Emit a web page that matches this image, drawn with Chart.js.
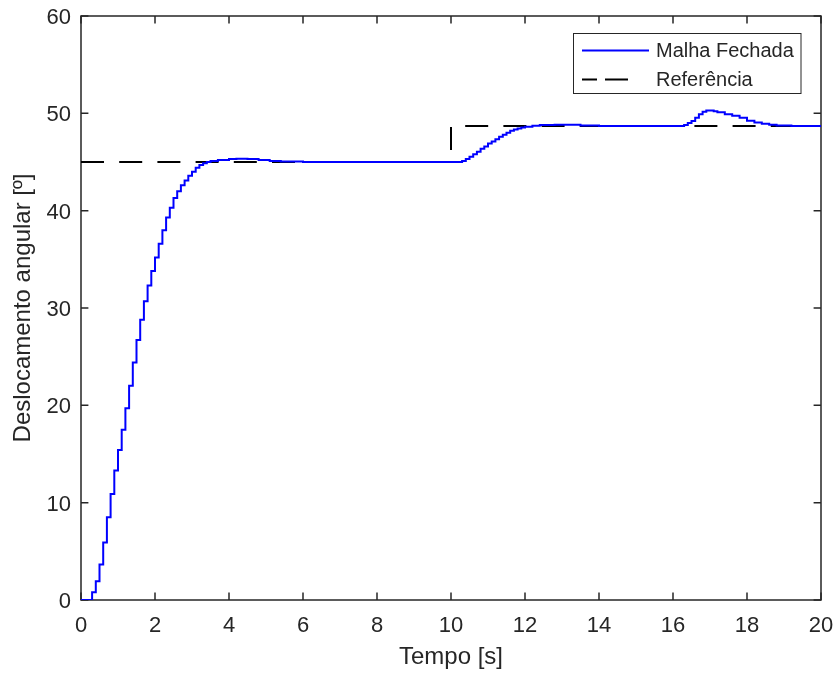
<!DOCTYPE html>
<html>
<head>
<meta charset="utf-8">
<script src="https://cdn.jsdelivr.net/npm/chart.js@4"></script>
<style>
html,body{margin:0;padding:0;background:#fff;}
#wrap{width:837px;height:675px;}
</style>
</head>
<body>
<div id="wrap"><canvas id="c" width="837" height="675"></canvas></div>
<script>
// ---- data ----
const seriesNames = ["Malha Fechada", "Referência"];
const xTickLabels = [0,2,4,6,8,10,12,14,16,18,20];
const yTickLabels = [0,10,20,30,40,50,60];

const timeMF = [0,0.3,0.4,0.5,0.6,0.7,0.8,0.9,1.0,1.1,1.2,1.3,1.4,1.5,1.6,1.7,1.8,1.9,2.0,2.1,2.2,2.3,2.4,2.5,2.6,2.7,2.8,2.9,3.0,3.1,3.2,3.3,3.4,3.5,3.7,4.0,4.2,4.5,4.8,5.1,5.4,6.0,
  10.2,10.3,10.4,10.5,10.6,10.7,10.8,10.9,11.0,11.1,11.2,11.3,11.4,11.5,11.6,11.7,11.8,11.9,12.0,12.2,12.4,12.8,13.5,14.0,
  16.2,16.3,16.4,16.5,16.6,16.7,16.8,16.9,17.0,17.1,17.2,17.4,17.6,17.8,18.0,18.2,18.4,18.6,18.8,19.2,20.0];
const valuesMF = [0,0.79,1.92,3.66,5.9,8.5,10.9,13.3,15.4,17.5,19.7,22.0,24.4,26.7,28.8,30.7,32.3,33.8,35.2,36.6,38.0,39.3,40.3,41.3,42.0,42.6,43.1,43.6,44.0,44.4,44.7,44.87,45.0,45.1,45.2,45.3,45.34,45.3,45.2,45.1,45.05,45.0,
  45.0,45.1,45.3,45.55,45.8,46.05,46.35,46.6,46.9,47.1,47.35,47.6,47.8,48.0,48.2,48.35,48.45,48.55,48.62,48.72,48.8,48.82,48.75,48.7,
  48.7,48.8,49.0,49.2,49.55,49.9,50.15,50.28,50.3,50.22,50.1,49.9,49.75,49.55,49.25,49.05,48.92,48.82,48.75,48.7,48.7];

const timeRef = [0,10,10,20];
const valuesRef = [45,45,48.7,48.7];

// ---- chart ----
const AX = '#262626';
const FONT = "'Liberation Sans', Arial, Helvetica, sans-serif";

const boxPlugin = {
  id: 'matlabBox',
  beforeDatasetsDraw(chart) {
    const {ctx, chartArea: a, scales} = chart;
    ctx.save();
    ctx.strokeStyle = AX;
    ctx.lineWidth = 1.5;
    ctx.strokeRect(a.left, a.top, a.right - a.left, a.bottom - a.top);
    const tl = 7.4;
    ctx.beginPath();
    xTickLabels.forEach(v => {
      const px = scales.x.getPixelForValue(v);
      ctx.moveTo(px, a.bottom); ctx.lineTo(px, a.bottom - tl);
      ctx.moveTo(px, a.top); ctx.lineTo(px, a.top + tl);
    });
    yTickLabels.forEach(v => {
      const py = scales.y.getPixelForValue(v);
      ctx.moveTo(a.left, py); ctx.lineTo(a.left + tl, py);
      ctx.moveTo(a.right, py); ctx.lineTo(a.right - tl, py);
    });
    ctx.stroke();
    ctx.restore();
  },
  afterDatasetsDraw(chart) {
    const {ctx} = chart;
    ctx.save();
    // legend box
    const bx = 573.5, by = 33.5, bw = 227.5, bh = 60;
    ctx.fillStyle = '#fff';
    ctx.fillRect(bx, by, bw, bh);
    ctx.strokeStyle = AX;
    ctx.lineWidth = 1;
    ctx.strokeRect(bx, by, bw, bh);
    // sample lines
    const y1 = 50.5, y2 = 79.5;
    ctx.lineWidth = 2;
    ctx.strokeStyle = '#0000ff';
    ctx.beginPath(); ctx.moveTo(582, y1); ctx.lineTo(649, y1); ctx.stroke();
    ctx.strokeStyle = '#000';
    ctx.beginPath(); ctx.moveTo(582, y2); ctx.lineTo(597, y2); ctx.moveTo(605, y2); ctx.lineTo(628, y2); ctx.stroke();
    ctx.fillStyle = AX;
    ctx.font = '20px ' + FONT;
    ctx.textBaseline = 'middle';
    ctx.textAlign = 'left';
    ctx.fillText(seriesNames[0], 656, y1 + 0.5);
    ctx.fillText(seriesNames[1], 656, y2 + 0.5);
    ctx.restore();
  }
};

function zeroPad(s) { s.paddingLeft = 0; s.paddingRight = 0; s.paddingTop = 0; s.paddingBottom = 0; }

new Chart(document.getElementById('c'), {
  type: 'line',
  data: {
    datasets: [
      {
        label: seriesNames[0],
        data: timeMF.map((t, i) => ({x: t, y: valuesMF[i]})),
        borderColor: '#0000ff',
        borderWidth: 2,
        pointRadius: 0,
        stepped: true,
        fill: false
      },
      {
        label: seriesNames[1],
        data: timeRef.map((t, i) => ({x: t, y: valuesRef[i]})),
        borderColor: '#000000',
        borderWidth: 2,
        borderDash: [23, 15.2],
        pointRadius: 0,
        fill: false
      }
    ]
  },
  options: {
    responsive: false,
    animation: false,
    events: [],
    layout: {padding: {top: 16, right: 16, left: 0, bottom: 0}},
    plugins: {legend: {display: false}, tooltip: {enabled: false}},
    scales: {
      x: {
        type: 'linear', min: 0, max: 20,
        afterFit(s) { s.height = 75; zeroPad(s); },
        afterBuildTicks(s) { s.ticks = xTickLabels.map(v => ({value: v})); },
        grid: {display: false, drawTicks: false},
        border: {display: false},
        ticks: {color: AX, font: {family: FONT, size: 22}, padding: 13, maxRotation: 0, autoSkip: false},
        title: {display: true, text: 'Tempo [s]', color: AX, font: {family: FONT, size: 24}, padding: {top: 0, bottom: 3}}
      },
      y: {
        type: 'linear', min: 0, max: 60,
        afterFit(s) { s.width = 81; zeroPad(s); },
        afterBuildTicks(s) { s.ticks = yTickLabels.map(v => ({value: v})); },
        grid: {display: false, drawTicks: false},
        border: {display: false},
        ticks: {color: AX, font: {family: FONT, size: 22}, padding: 10, labelOffset: 2, autoSkip: false},
        title: {display: true, text: 'Deslocamento angular [º]', color: AX, font: {family: FONT, size: 24}, padding: {top: 9, bottom: 0}}
      }
    }
  },
  plugins: [boxPlugin]
});
</script>
</body>
</html>
